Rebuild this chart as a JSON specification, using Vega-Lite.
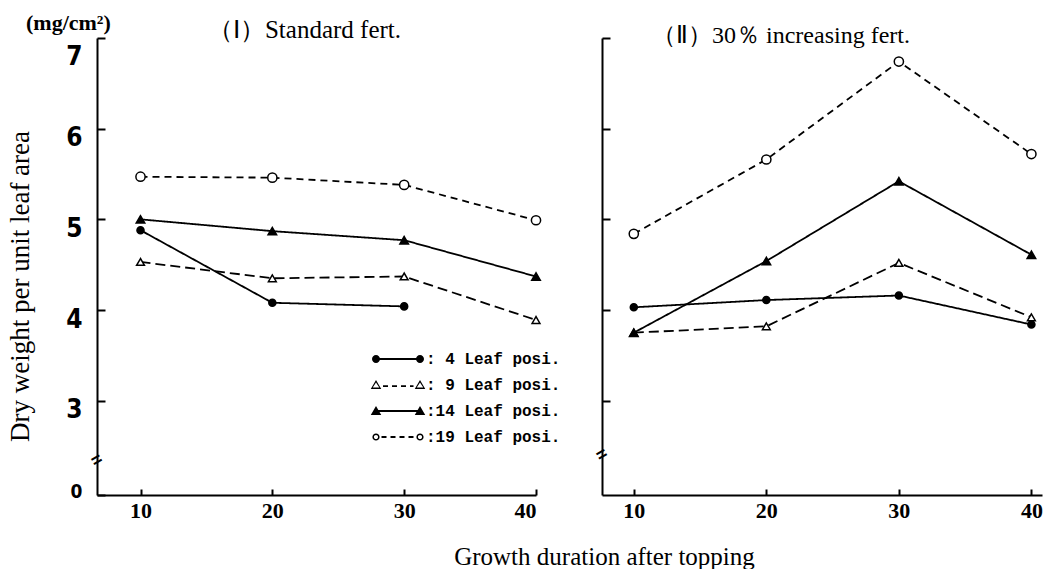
{
  "$schema": "https://vega.github.io/schema/vega-lite/v6.json",
  "background": "white",
  "padding": {"left": 5, "top": 12, "right": 0, "bottom": 0},
  "title": {"text": "(mg/cm²)", "anchor": "start", "frame": "bounds", "font": "Liberation Serif", "fontSize": 22, "fontWeight": "bold", "color": "black", "baseline": "middle", "offset": -27, "dx": 20},
  "config": {
    "font": "Liberation Serif",
    "view": {"stroke": null},
    "axis": {"grid": false, "domainColor": "black", "tickColor": "black", "domainWidth": 2, "tickWidth": 2, "labelColor": "black", "titleColor": "black"}
  },
  "data": {"values": [
    {"panel": "I", "day": 10, "series": "4", "value": 4.88},
    {"panel": "I", "day": 20, "series": "4", "value": 4.08},
    {"panel": "I", "day": 30, "series": "4", "value": 4.04},
    {"panel": "I", "day": 10, "series": "9", "value": 4.53},
    {"panel": "I", "day": 20, "series": "9", "value": 4.35},
    {"panel": "I", "day": 30, "series": "9", "value": 4.37},
    {"panel": "I", "day": 40, "series": "9", "value": 3.89},
    {"panel": "I", "day": 10, "series": "14", "value": 5.00},
    {"panel": "I", "day": 20, "series": "14", "value": 4.87},
    {"panel": "I", "day": 30, "series": "14", "value": 4.77},
    {"panel": "I", "day": 40, "series": "14", "value": 4.37},
    {"panel": "I", "day": 10, "series": "19", "value": 5.47},
    {"panel": "I", "day": 20, "series": "19", "value": 5.46},
    {"panel": "I", "day": 30, "series": "19", "value": 5.38},
    {"panel": "I", "day": 40, "series": "19", "value": 4.99},
    {"panel": "II", "day": 10, "series": "4", "value": 4.03},
    {"panel": "II", "day": 20, "series": "4", "value": 4.11},
    {"panel": "II", "day": 30, "series": "4", "value": 4.16},
    {"panel": "II", "day": 40, "series": "4", "value": 3.84},
    {"panel": "II", "day": 10, "series": "9", "value": 3.75},
    {"panel": "II", "day": 20, "series": "9", "value": 3.82},
    {"panel": "II", "day": 30, "series": "9", "value": 4.52},
    {"panel": "II", "day": 40, "series": "9", "value": 3.92},
    {"panel": "II", "day": 10, "series": "14", "value": 3.75},
    {"panel": "II", "day": 20, "series": "14", "value": 4.54},
    {"panel": "II", "day": 30, "series": "14", "value": 5.42},
    {"panel": "II", "day": 40, "series": "14", "value": 4.61},
    {"panel": "II", "day": 10, "series": "19", "value": 4.84},
    {"panel": "II", "day": 20, "series": "19", "value": 5.66},
    {"panel": "II", "day": 30, "series": "19", "value": 6.74},
    {"panel": "II", "day": 40, "series": "19", "value": 5.72}
  ]},
  "spacing": 66,
  "bounds": "flush",
  "resolve": {"scale": {"strokeDash": "independent", "shape": "independent", "fill": "independent", "size": "independent"}},
  "hconcat": [
    {
      "width": 439, "height": 457,
      "title": {"text": "（Ⅰ）Standard fert.", "font": "Liberation Serif", "fontSize": 25, "fontWeight": "normal", "color": "black", "anchor": "middle", "dx": -12, "baseline": "middle", "offset": -18},
      "transform": [{"filter": "datum.panel == 'I' || datum.panel == 'key'"}],
      "resolve": {"scale": {"shape": "independent"}},
      "layer": [
        {
          "transform": [{"filter": "datum.panel == 'I'"}],
          "mark": {"type": "line", "color": "black", "strokeWidth": 1.8},
          "encoding": {
            "x": {"field": "day", "type": "quantitative", "scale": {"domain": [6.7, 40], "nice": false, "zero": false},
              "axis": {"values": [10, 20, 30, 40], "tickSize": -6, "labelPadding": 11, "labelFont": "Liberation Serif", "labelFontSize": 22, "labelFontWeight": "bold", "labelAngle": 0,
                "title": "Growth duration after topping", "titleFont": "Liberation Serif", "titleFontSize": 25, "titleFontWeight": "normal", "titleX": 507, "titleY": 61, "titleBaseline": "middle", "titleAlign": "center"}},
            "y": {"field": "value", "type": "quantitative", "scale": {"domain": [1.96, 7], "nice": false, "zero": false},
              "axis": {"values": [1.96, 3, 4, 5, 6, 7], "format": "d",
                "labelExpr": "datum.value < 2.5 ? '0' : datum.label",
                "labelFont": "DejaVu Sans Condensed", "labelFontWeight": "bold",
                "labelFontSize": {"condition": {"test": "datum.value < 2.5", "value": 19}, "value": 26},
                "labelOffset": {"condition": [{"test": "datum.value > 6.5", "value": 18}, {"test": "datum.value < 2.5", "value": -4}], "value": 9},
                "labelBaseline": "middle",
                "tickSize": -8, "labelPadding": 23,
                "title": "Dry weight per unit leaf area", "titleFont": "Liberation Serif", "titleFontSize": 27, "titleFontWeight": "normal",
                "titleX": -77, "titleY": 248, "titleAngle": -90, "titleBaseline": "middle", "titleAlign": "center"}},
            "strokeDash": {"field": "series", "type": "nominal",
              "scale": {"domain": ["4", "9", "14", "19"], "range": [[1, 0], [10, 5], [1, 0], [7, 5]]}, "legend": null}
          }
        },
        {
          "transform": [{"filter": "datum.panel == 'I'"}],
          "mark": {"type": "point", "filled": true, "stroke": "black", "strokeWidth": 1.5, "opacity": 1},
          "encoding": {
            "x": {"field": "day", "type": "quantitative"},
            "y": {"field": "value", "type": "quantitative"},
            "shape": {"field": "series", "type": "nominal", "scale": {"domain": ["4", "9", "14", "19"], "range": ["circle", "triangle-up", "triangle-up", "circle"]}, "legend": null},
            "fill": {"field": "series", "type": "nominal", "scale": {"domain": ["4", "9", "14", "19"], "range": ["black", "white", "black", "white"]}, "legend": null},
            "size": {"field": "series", "type": "ordinal", "scale": {"domain": ["4", "9", "14", "19"], "range": [50, 85, 85, 45]}, "legend": null}
          }
        },
        {
          "transform": [{"filter": "datum.panel == 'key'"}],
          "mark": {"type": "point", "filled": true, "color": "black", "strokeWidth": 0, "opacity": 1},
          "encoding": {
            "shape": {"field": "series", "type": "nominal",
              "scale": {"domain": ["4", "9", "14", "19"], "range": [
                "M0,-0.18L8.8,-0.18L8.8,0.18L0,0.18ZM-0.8,0A0.8,0.8,0,1,1,0.8,0A0.8,0.8,0,1,1,-0.8,0ZM8,0A0.8,0.8,0,1,1,9.6,0A0.8,0.8,0,1,1,8,0Z",
                "M0,-1L1.05,0.8L-1.05,0.8ZM0,-0.5L-0.65,0.5L0.65,0.5ZM8.8,-1L9.85,0.8L7.75,0.8ZM8.8,-0.5L8.15,0.5L9.45,0.5ZM1.4,0.05L2.4,0.05L2.4,0.41L1.4,0.41ZM3.2,0.05L4.2,0.05L4.2,0.41L3.2,0.41ZM5,0.05L6,0.05L6,0.41L5,0.41ZM6.8,0.05L7.5,0.05L7.5,0.41L6.8,0.41Z",
                "M0,-0.18L8.8,-0.18L8.8,0.18L0,0.18ZM0,-1L1.05,0.8L-1.05,0.8ZM8.8,-1L9.85,0.8L7.75,0.8Z",
                "M-0.72,0A0.72,0.72,0,1,1,0.72,0A0.72,0.72,0,1,1,-0.72,0ZM-0.42,0A0.42,0.42,0,1,0,0.42,0A0.42,0.42,0,1,0,-0.42,0ZM8.08,0A0.72,0.72,0,1,1,9.52,0A0.72,0.72,0,1,1,8.08,0ZM8.38,0A0.42,0.42,0,1,0,9.22,0A0.42,0.42,0,1,0,8.38,0ZM1.1,-0.18L2.1,-0.18L2.1,0.18L1.1,0.18ZM2.9,-0.18L3.9,-0.18L3.9,0.18L2.9,0.18ZM4.7,-0.18L5.7,-0.18L5.7,0.18L4.7,0.18ZM6.5,-0.18L7.5,-0.18L7.5,0.18L6.5,0.18Z"
              ]},
              "legend": {
                "orient": "none", "legendX": 271, "legendY": 313, "title": null, "padding": 0,
                "labelExpr": "datum.value == '4' ? ': 4 Leaf posi.' : datum.value == '9' ? ': 9 Leaf posi.' : ':' + datum.value + ' Leaf posi.'",
                "labelFont": "Liberation Mono", "labelFontSize": 16, "labelFontWeight": "bold", "labelColor": "black",
                "labelOffset": 42, "rowPadding": 10, "symbolSize": 100,
                "symbolFillColor": "black", "symbolStrokeWidth": 0, "symbolOpacity": 1
              }}
          }
        },
        {
          "data": {"values": [{"note": "axis break"}]},
          "mark": {"type": "text", "text": "=", "angle": -30, "font": "Liberation Sans", "fontSize": 18, "fontWeight": "bold", "color": "black"},
          "encoding": {"x": {"datum": 6.7}, "y": {"datum": 2.34}}
        }
      ]
    },
    {
      "width": 440, "height": 457,
      "title": {"text": "（Ⅱ）30％ increasing fert.", "font": "Liberation Serif", "fontSize": 24, "fontWeight": "normal", "color": "black", "anchor": "middle", "dx": -41, "baseline": "middle", "offset": -23},
      "transform": [{"filter": "datum.panel == 'II'"}],
      "layer": [
        {
          "mark": {"type": "line", "color": "black", "strokeWidth": 1.8},
          "encoding": {
            "x": {"field": "day", "type": "quantitative", "scale": {"domain": [7.6, 40.8], "nice": false, "zero": false},
              "axis": {"values": [10, 20, 30, 40], "tickSize": -6, "labelPadding": 11, "labelFont": "Liberation Serif", "labelFontSize": 22, "labelFontWeight": "bold", "labelAngle": 0, "title": null}},
            "y": {"field": "value", "type": "quantitative", "scale": {"domain": [1.96, 7], "nice": false, "zero": false},
              "axis": {"values": [3, 4, 5, 6, 7], "labels": false, "tickSize": -8, "title": null}},
            "strokeDash": {"field": "series", "type": "nominal",
              "scale": {"domain": ["4", "9", "14", "19"], "range": [[1, 0], [10, 5], [1, 0], [7, 5]]}, "legend": null}
          }
        },
        {
          "mark": {"type": "point", "filled": true, "stroke": "black", "strokeWidth": 1.5, "opacity": 1},
          "encoding": {
            "x": {"field": "day", "type": "quantitative"},
            "y": {"field": "value", "type": "quantitative"},
            "shape": {"field": "series", "type": "nominal", "scale": {"domain": ["4", "9", "14", "19"], "range": ["circle", "triangle-up", "triangle-up", "circle"]}, "legend": null},
            "fill": {"field": "series", "type": "nominal", "scale": {"domain": ["4", "9", "14", "19"], "range": ["black", "white", "black", "white"]}, "legend": null},
            "size": {"field": "series", "type": "ordinal", "scale": {"domain": ["4", "9", "14", "19"], "range": [50, 85, 85, 45]}, "legend": null}
          }
        },
        {
          "data": {"values": [{"note": "axis break"}]},
          "mark": {"type": "text", "text": "=", "angle": -30, "font": "Liberation Sans", "fontSize": 18, "fontWeight": "bold", "color": "black"},
          "encoding": {"x": {"datum": 7.6}, "y": {"datum": 2.4}}
        }
      ]
    }
  ]
}
